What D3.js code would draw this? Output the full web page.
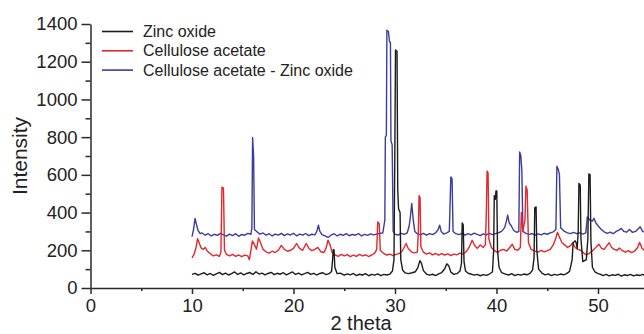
<!DOCTYPE html>
<html>
<head>
<meta charset="utf-8">
<script src="https://cdn.jsdelivr.net/npm/d3@7"></script>
<style>
  html, body { margin: 0; padding: 0; background: #fff; }
  svg { display: block; font-family: "Liberation Sans", Arial, sans-serif; }
  .axis path, .axis line { stroke: #2a2a2a; stroke-width: 1.5; }
  .axis text { fill: #222; font-size: 18.5px; }
</style>
</head>
<body>
<svg id="chart" width="644" height="334"></svg>
<script>
// === Dane XRD (2 theta, intensywność) ===
const seriesNames = ["Zinc oxide", "Cellulose acetate", "Cellulose acetate - Zinc oxide"];
const seriesColors = ["#1c1c1c", "#e5262b", "#3b3c9e"];

const xTicks = [0, 10, 20, 30, 40, 50];
const yTicks = [0, 200, 400, 600, 800, 1000, 1200, 1400];

const zincOxide = [
  [10.0,72],[10.3,78],[10.6,68],[10.9,75],[11.2,81],[11.5,70],[11.8,77],[12.1,67],[12.4,75],[12.7,83],
  [13.0,71],[13.3,79],[13.6,69],[13.9,76],[14.2,85],[14.5,72],[14.8,80],[15.1,70],[15.4,77],[15.7,82],
  [16.0,72],[16.3,86],[16.6,74],[16.9,79],[17.2,70],[17.5,77],[17.8,83],[18.1,71],[18.4,78],[18.7,73],
  [19.0,81],[19.3,70],[19.6,77],[19.9,85],[20.2,72],[20.5,79],[20.8,70],[21.1,76],[21.4,83],[21.7,72],
  [22.0,78],[22.3,69],[22.6,77],[22.9,81],[23.2,71],[23.5,76],[23.75,88],[23.85,150],[23.92,205],[24.0,200],
  [24.07,110],[24.3,76],[24.6,79],[25.0,68],[25.3,75],[25.6,70],[25.9,77],[26.2,66],[26.5,73],[26.8,69],
  [27.1,76],[27.4,65],[27.7,72],[28.0,68],[28.3,75],[28.6,66],[28.9,72],[29.2,69],[29.5,74],[29.75,90],
  [29.9,150],[29.98,700],[30.05,1262],[30.2,1255],[30.27,520],[30.35,420],[30.5,400],[30.57,150],[30.75,95],[31.0,80],
  [31.3,76],[31.7,81],[32.0,86],[32.25,108],[32.45,145],[32.6,132],[32.8,92],[33.1,74],[33.4,68],[33.7,73],
  [34.0,66],[34.3,75],[34.6,82],[34.9,102],[35.1,128],[35.3,118],[35.5,84],[35.8,72],[36.1,76],[36.4,90],
  [36.55,130],[36.62,345],[36.72,335],[36.8,140],[36.95,90],[37.2,78],[37.5,74],[37.8,68],[38.1,72],[38.4,65],
  [38.7,71],[39.0,67],[39.3,74],[39.6,85],[39.72,200],[39.78,490],[39.88,470],[39.95,515],[40.03,515],[40.1,200],
  [40.25,110],[40.5,82],[40.9,74],[41.2,69],[41.5,76],[41.8,66],[42.1,72],[42.4,68],[42.7,74],[43.0,70],
  [43.3,78],[43.55,95],[43.7,160],[43.77,425],[43.9,430],[43.97,200],[44.15,100],[44.5,78],[44.8,70],[45.1,75],
  [45.4,66],[45.7,72],[46.0,68],[46.3,74],[46.6,70],[46.9,76],[47.2,88],[47.45,150],[47.55,240],[47.75,250],
  [47.85,240],[47.95,210],[48.05,300],[48.12,555],[48.25,545],[48.32,260],[48.5,140],[48.85,150],[49.0,260],[49.1,605],
  [49.22,600],[49.3,250],[49.45,110],[49.7,85],[50.0,76],[50.2,74],[50.5,66],[50.8,72],[51.1,64],[51.4,70],
  [51.7,67],[52.0,73],[52.3,63],[52.6,70],[52.9,66],[53.2,72],[53.5,64],[53.8,70],[54.1,66],[54.4,72],
  [54.7,63],[55.0,69],[55.3,65],[55.6,71],[55.9,66],[56.2,70]
];

const celluloseAcetate = [
  [10.0,160],[10.2,178],[10.4,215],[10.55,262],[10.7,240],[10.9,212],[11.1,205],[11.3,215],[11.5,196],[11.8,182],
  [12.1,170],[12.4,176],[12.7,168],[12.85,190],[12.95,535],[13.1,530],[13.2,200],[13.4,178],[13.7,170],[14.0,178],
  [14.3,168],[14.6,175],[14.9,166],[15.2,174],[15.5,170],[15.65,150],[15.8,200],[15.95,250],[16.15,230],[16.35,205],
  [16.55,265],[16.75,240],[17.0,205],[17.3,192],[17.6,185],[17.9,195],[18.2,188],[18.5,200],[18.8,226],[19.1,205],
  [19.4,195],[19.7,200],[20.0,210],[20.3,236],[20.6,210],[20.9,200],[21.25,236],[21.55,208],[21.8,198],[22.1,205],
  [22.4,215],[22.7,192],[23.0,188],[23.2,210],[23.4,253],[23.6,230],[23.8,188],[24.1,176],[24.4,168],[24.7,178],
  [25.0,170],[25.3,177],[25.6,166],[25.9,174],[26.2,168],[26.5,178],[26.8,170],[27.1,176],[27.4,167],[27.7,175],
  [28.0,185],[28.2,205],[28.3,350],[28.45,340],[28.55,200],[28.9,182],[29.2,175],[29.5,180],[29.8,172],[30.1,178],
  [30.4,182],[30.7,195],[30.95,220],[31.1,236],[31.3,210],[31.6,192],[31.9,186],[32.2,190],[32.3,300],[32.37,490],
  [32.47,480],[32.55,220],[32.8,190],[33.1,180],[33.4,186],[33.7,176],[34.0,183],[34.3,174],[34.6,182],[34.9,175],
  [35.2,181],[35.5,172],[35.8,180],[36.1,176],[36.4,185],[36.7,180],[37.0,192],[37.3,215],[37.6,253],[37.85,225],
  [38.1,210],[38.4,228],[38.7,215],[38.9,230],[39.0,400],[39.07,620],[39.17,610],[39.25,260],[39.5,215],[39.8,198],
  [40.1,188],[40.4,200],[40.7,205],[41.0,196],[41.3,215],[41.55,232],[41.8,205],[42.1,200],[42.35,215],[42.45,400],
  [42.6,300],[42.8,360],[42.9,540],[43.02,520],[43.15,240],[43.4,205],[43.8,196],[44.1,190],[44.4,200],[44.7,192],
  [45.0,198],[45.3,205],[45.6,230],[45.85,265],[46.0,295],[46.2,270],[46.45,240],[46.7,230],[47.0,215],[47.3,225],
  [47.5,240],[47.75,215],[48.0,205],[48.3,200],[48.6,185],[48.85,176],[49.1,182],[49.4,195],[49.7,210],[49.9,222],
  [50.1,232],[50.35,210],[50.6,205],[50.85,222],[51.1,240],[51.35,215],[51.6,205],[51.9,200],[52.1,212],[52.4,198],
  [52.7,190],[53.0,198],[53.3,188],[53.6,195],[53.9,215],[54.1,242],[54.35,210],[54.6,198],[54.9,192],[55.2,200],
  [55.5,190],[55.8,197],[56.1,192]
];

const caZnO = [
  [10.0,272],[10.15,310],[10.3,369],[10.45,335],[10.6,305],[10.8,288],[11.0,292],[11.3,280],[11.6,288],[11.9,276],
  [12.2,285],[12.5,279],[12.8,290],[13.1,282],[13.4,275],[13.7,286],[14.0,278],[14.3,288],[14.6,274],[14.9,284],
  [15.2,280],[15.5,290],[15.8,285],[15.9,320],[15.97,798],[16.07,700],[16.15,310],[16.4,298],[16.7,286],[17.0,292],
  [17.3,280],[17.6,288],[17.9,276],[18.2,286],[18.5,280],[18.8,290],[19.1,278],[19.4,287],[19.7,281],[20.0,290],
  [20.3,277],[20.6,286],[20.9,280],[21.2,289],[21.5,278],[21.8,285],[22.1,282],[22.3,300],[22.45,333],[22.6,300],
  [22.8,283],[23.1,276],[23.4,268],[23.7,280],[24.0,288],[24.3,276],[24.6,285],[24.9,279],[25.2,288],[25.5,277],
  [25.8,284],[26.1,280],[26.4,289],[26.7,276],[27.0,284],[27.3,279],[27.6,287],[27.9,282],[28.2,286],[28.5,290],
  [28.8,292],[29.0,360],[29.05,800],[29.15,810],[29.2,1367],[29.35,1360],[29.45,1310],[29.55,1300],[29.6,780],[29.72,760],
  [29.82,300],[30.0,285],[30.3,280],[30.6,290],[30.9,284],[31.2,292],[31.4,330],[31.5,370],[31.65,449],[31.8,360],
  [31.95,300],[32.2,288],[32.5,282],[32.8,290],[33.1,280],[33.4,288],[33.7,283],[34.0,292],[34.25,310],[34.4,333],
  [34.55,300],[34.8,286],[35.1,292],[35.35,300],[35.5,589],[35.62,580],[35.72,300],[36.0,288],[36.3,283],[36.6,290],
  [36.9,280],[37.2,288],[37.5,282],[37.8,291],[38.1,284],[38.4,278],[38.7,287],[39.0,282],[39.3,290],[39.6,283],
  [39.9,288],[40.2,293],[40.5,300],[40.8,320],[41.0,360],[41.1,386],[41.25,345],[41.45,330],[41.7,305],[42.0,295],
  [42.2,300],[42.28,722],[42.4,700],[42.5,620],[42.6,300],[42.9,290],[43.2,284],[43.5,288],[43.8,280],[44.1,287],
  [44.4,282],[44.7,290],[45.0,285],[45.3,292],[45.6,298],[45.85,310],[45.95,646],[46.08,630],[46.2,600],[46.32,320],
  [46.7,300],[47.0,292],[47.3,288],[47.6,295],[47.9,288],[48.2,292],[48.5,286],[48.8,292],[48.95,377],[49.2,360],
  [49.45,355],[49.6,370],[49.8,345],[50.0,330],[50.3,312],[50.6,298],[50.9,290],[51.2,296],[51.5,288],[51.8,300],
  [52.1,308],[52.3,316],[52.55,300],[52.8,296],[53.1,310],[53.4,295],[53.7,300],[54.0,315],[54.15,325],[54.4,300],
  [54.7,292],[55.0,302],[55.3,290],[55.6,298],[55.9,288]
];

const svg = d3.select("#chart");

// skala: 0 -> 90.5 px, 10 jednostek ~ 101.5 px (wykres ucięty z prawej)
const x = d3.scaleLinear().domain([0, 60]).range([90.5, 699.5]);
const y = d3.scaleLinear().domain([0, 1400]).range([288, 24]);

// osie
svg.append("g").attr("class", "axis")
    .attr("transform", `translate(0,${y(0)})`)
    .call(d3.axisBottom(x).tickValues(xTicks).tickSize(6).tickPadding(5).tickSizeOuter(0));
svg.append("g").attr("class", "axis")
    .attr("transform", `translate(0,${y(0)})`)
    .call(d3.axisBottom(x).tickValues(d3.range(5, 60, 10)).tickSize(3).tickFormat("").tickSizeOuter(0))
    .select(".domain").remove();

svg.append("g").attr("class", "axis")
    .attr("transform", `translate(${x(0)},0)`)
    .call(d3.axisLeft(y).tickValues(yTicks).tickFormat(d3.format("d"))
        .tickSize(9).tickPadding(4).tickSizeOuter(0));
svg.append("g").attr("class", "axis")
    .attr("transform", `translate(${x(0)},0)`)
    .call(d3.axisLeft(y).tickValues(d3.range(100, 1400, 200)).tickSize(5).tickFormat("").tickSizeOuter(0))
    .select(".domain").remove();

// tytuły osi
svg.append("text")
    .attr("x", 361).attr("y", 330)
    .attr("text-anchor", "middle")
    .attr("fill", "#222").attr("font-size", 20)
    .text("2 theta");
svg.append("text")
    .attr("transform", `translate(27,${156}) rotate(-90)`)
    .attr("text-anchor", "middle")
    .attr("fill", "#222").attr("font-size", 21)
    .text("Intensity");

// linie danych (niebieska na spodzie, czarna na wierzchu)
const line = d3.line().x(d => x(d[0])).y(d => y(d[1]));
const allSeries = [zincOxide, celluloseAcetate, caZnO];
[2, 1, 0].forEach(i => {
    svg.append("path")
        .datum(allSeries[i])
        .attr("d", line)
        .attr("fill", "none")
        .attr("stroke", seriesColors[i])
        .attr("stroke-width", 1.4)
        .attr("stroke-linejoin", "round");
});

// legenda
const legend = svg.append("g");
seriesNames.forEach((name, i) => {
    const ly = 31.5 + i * 19.3;
    legend.append("line")
        .attr("x1", 102).attr("x2", 133).attr("y1", ly).attr("y2", ly)
        .attr("stroke", seriesColors[i]).attr("stroke-width", 1.6);
    legend.append("text")
        .attr("x", 143).attr("y", ly + 5.5)
        .attr("fill", "#222").attr("font-size", 16)
        .text(name);
});
</script>
</body>
</html>
